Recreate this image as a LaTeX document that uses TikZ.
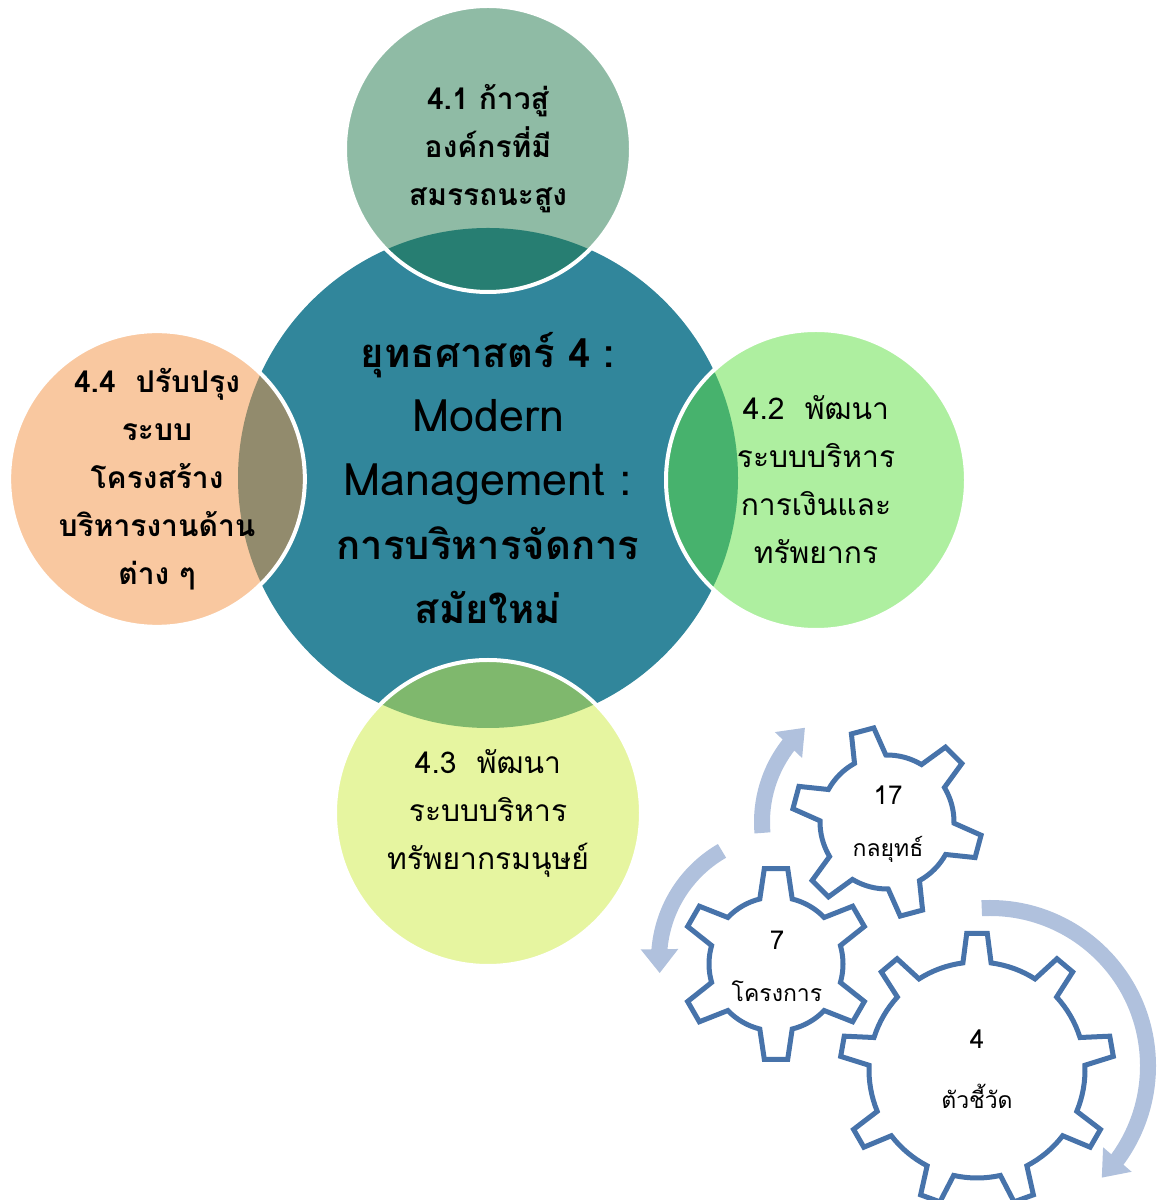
\documentclass[tikz,border=0pt]{standalone}
\usepackage{fontspec}
\setmainfont[Script=Thai]{Loma}
\usetikzlibrary{positioning,arrows.meta,bending}
\definecolor{teal3}{RGB}{49,134,155}
\definecolor{green4}{RGB}{31,119,75}
\definecolor{lightgreen}{RGB}{93,223,65}
\definecolor{yellowgreen}{RGB}{205,235,65}
\definecolor{peach}{RGB}{243,145,65}
\definecolor{gearblue}{RGB}{71,115,170}
\definecolor{arrowblue}{RGB}{176,193,221}
\begin{document}
\begin{tikzpicture}
[x=0.5pt, y=0.5pt, every node/.style={circle, align=center, inner sep=0pt},
 hub/.style={fill=teal3, minimum size=250pt, font=\fontsize{20}{32}\selectfont\bfseries},
 sat/.style={fill opacity=0.5, text opacity=1, draw=white, line width=2pt, font=\fontsize{15}{24}\selectfont},
 cog/.style={draw=gearblue, line width=2.5pt, fill=white, line join=miter},
 turn/.style={draw=arrowblue, line width=8pt, -{Triangle[width=18pt,length=12pt,flex]}},
 cogtext/.style={font=\fontsize{11.5}{26}\selectfont}]
\useasboundingbox (0,0) rectangle (1168,1200);
\node[hub] (strat) at (488,722) {ยุทธศาสตร์ 4 :\\{\mdseries\fontsize{22.4}{32}\selectfont Modern}\\{\mdseries\fontsize{22.4}{32}\selectfont Management :}\\การบริหารจัดการ\\สมัยใหม่};
\node[sat, fill=green4, minimum size=143pt, font=\fontsize{15}{24}\selectfont\bfseries] (s1) at (488,1051) {4.1 ก้าวสู่\\องค์กรที่มี\\สมรรถนะสูง};
\node[sat, fill=lightgreen, minimum size=150pt] (s2) at (816,720) {4.2~ พัฒนา\\ระบบบริหาร\\การเงินและ\\ทรัพยากร};
\node[sat, fill=yellowgreen, minimum size=153pt] (s3) at (488,387) {4.3~ พัฒนา\\ระบบบริหาร\\ทรัพยากรมนุษย์};
\node[sat, fill=peach, minimum size=146pt, font=\fontsize{15}{24}\selectfont\bfseries] (s4) at (157,721) {4.4~ ปรับปรุง\\ระบบ\\โครงสร้าง\\บริหารงานด้าน\\ต่าง ๆ};
\coordinate (c17) at (887,378);
\coordinate (c7) at (785,240);
\coordinate (c4) at (990,134);
\draw[turn] (c17) ++(185:125) arc[start angle=185, end angle=131, radius=125];
\draw[turn] (c7) ++(120:126) arc[start angle=120, end angle=186, radius=126];
\draw[turn] (c4) ++(93:158) arc[start angle=93, end angle=-45, radius=158];
\foreach \cx/\cy/\n/\a/\ri/\ro/\hb/\ht in {887/378/6/105/67/95/14/7, 776/236/6/90/67/96/14/7, 977/130/9/90/108/137/7.5/4.3}
  \draw[cog, shift={(\cx,\cy)}] ({\a-\hb}:\ri)
    \foreach \k in {1,...,\n} { -- ({\a+(\k-1)*360/\n-\ht}:\ro) -- ({\a+(\k-1)*360/\n+\ht}:\ro) -- ({\a+(\k-1)*360/\n+\hb}:\ri)
      arc[start angle={\a+(\k-1)*360/\n+\hb}, delta angle={360/\n-2*\hb}, radius=\ri] } -- cycle;
\node[cogtext] (g17) at (888,376) {{\fontsize{13}{26}\selectfont 17}\\กลยุทธ์};
\node[cogtext] (g7) at (777,234) {{\fontsize{13}{26}\selectfont 7}\\โครงการ};
\node[cogtext, font=\fontsize{11.5}{30}\selectfont] (g4) at (977,131) {{\fontsize{13}{30}\selectfont 4}\\ตัวชี้วัด};
\end{tikzpicture}
\end{document}
